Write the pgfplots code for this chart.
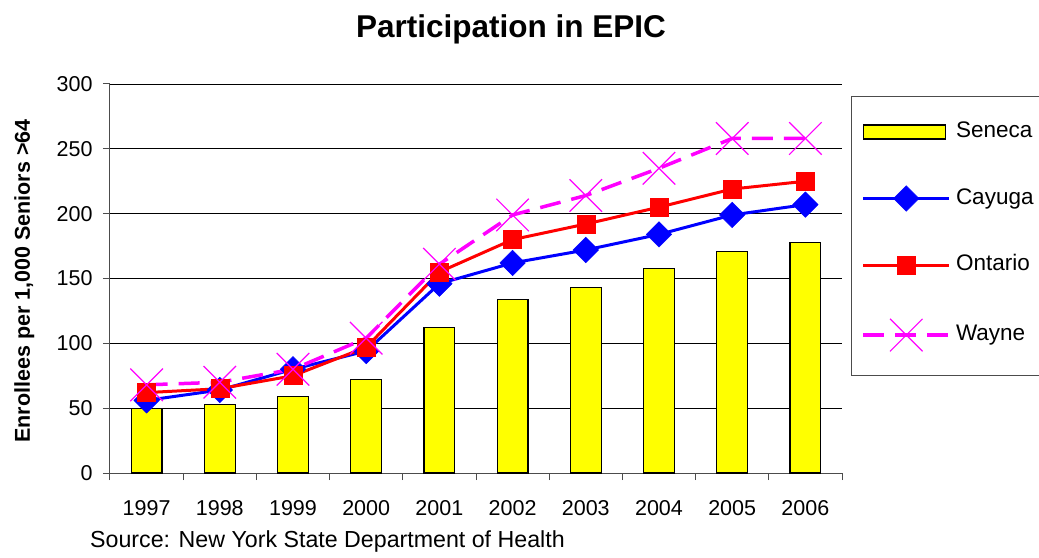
\documentclass[border=0pt]{standalone}
\usepackage{fontspec}
\setmainfont{Liberation Sans}
\usepackage{pgfplots}
\pgfplotsset{compat=1.18}
\definecolor{cyel}{RGB}{255,255,0}
\definecolor{cblue}{RGB}{0,0,255}
\definecolor{cred}{RGB}{255,0,0}
\definecolor{cmag}{RGB}{255,0,255}
\begin{document}
\begin{tikzpicture}
\path[use as bounding box] (-110pt,-84pt) rectangle (929pt,473pt);
\begin{axis}[
  at={(0pt,0pt)}, anchor=south west,
  scale only axis, width=732pt, height=389pt,
  xmin=-0.5, xmax=9.5, ymin=0, ymax=300,
  ytick={0,50,100,150,200,250,300},
  xtick={-0.5,0.5,1.5,2.5,3.5,4.5,5.5,6.5,7.5,8.5,9.5},
  x tick label as interval,
  xticklabels={1997,1998,1999,2000,2001,2002,2003,2004,2005,2006},
  axis x line*=bottom, axis y line*=left,
  axis line style={draw=black!70, line width=1pt},
  ymajorgrids, major grid style={draw=black, line width=0.8pt},
  tick align=outside, major tick length=7pt,
  tick style={draw=black!70, line width=1pt},
  /pgf/number format/assume math mode=true,
  tick label style={font=\fontsize{21.5}{25}\selectfont},
  yticklabel style={xshift=-7pt},
  xticklabel style={yshift=-17pt},
  legend style={at={(1.0123,0.9692)}, anchor=north west,
    draw=black!70, line width=1pt,
    font=\fontsize{22.5}{26}\selectfont,
    inner xsep=10pt, inner ysep=24pt,
    row sep=42.3pt, column sep=4pt,
    nodes={text height=16pt, text depth=5pt, inner sep=1pt},
    legend cell align=left},
]
\addplot[ybar, bar width=0.42, fill=cyel, draw=black, line width=1.2pt,
  legend image code/.code={\draw[fill=cyel,draw=black,line width=1.2pt] (0pt,-7pt) rectangle (82pt,7pt);}]
  coordinates {(0,50) (1,53) (2,59) (3,72) (4,112) (5,134) (6,143) (7,158) (8,171) (9,178)};
\addlegendentry{Seneca}
\pgfplotsset{every axis plot/.append style={
  legend image code/.code={\draw[mark repeat=2,mark phase=2,#1] plot coordinates {(0pt,0pt) (43pt,0pt) (86pt,0pt)};}}}
\addplot[cblue, line width=3pt, mark=square*, mark size=9pt, mark options={rotate=45, solid, line width=0.5pt}]
  coordinates {(0,56) (1,64) (2,80) (3,94) (4,146) (5,162) (6,172) (7,184) (8,199) (9,207)};
\addlegendentry{Cayuga}
\addplot[cred, line width=3pt, mark=square*, mark size=9pt, mark options={solid, line width=0.5pt}]
  coordinates {(0,62) (1,65) (2,75) (3,97) (4,155) (5,180) (6,192) (7,205) (8,219) (9,225)};
\addlegendentry{Ontario}
\addplot[cmag, line width=3.5pt, dash pattern=on 21pt off 11pt, mark=x, mark size=23pt, mark options={solid, line width=1.2pt}]
  coordinates {(0,68) (1,70) (2,80) (3,104) (4,161) (5,199) (6,214) (7,235) (8,258) (9,258)};
\addlegendentry{Wayne}
\end{axis}
\node[rotate=90, anchor=base, font=\bfseries\fontsize{21.5}{26}\selectfont] at (-80pt,192pt) {Enrollees per 1,000 Seniors >64};
\node[anchor=base, font=\bfseries\fontsize{31.5}{36}\selectfont] at (401pt,435pt) {Participation in EPIC};
\node[anchor=base west, inner sep=0pt, font=\fontsize{23.2}{27}\selectfont] at (-20pt,-74pt) {Source: New York State Department of Health};
\end{tikzpicture}
\end{document}
